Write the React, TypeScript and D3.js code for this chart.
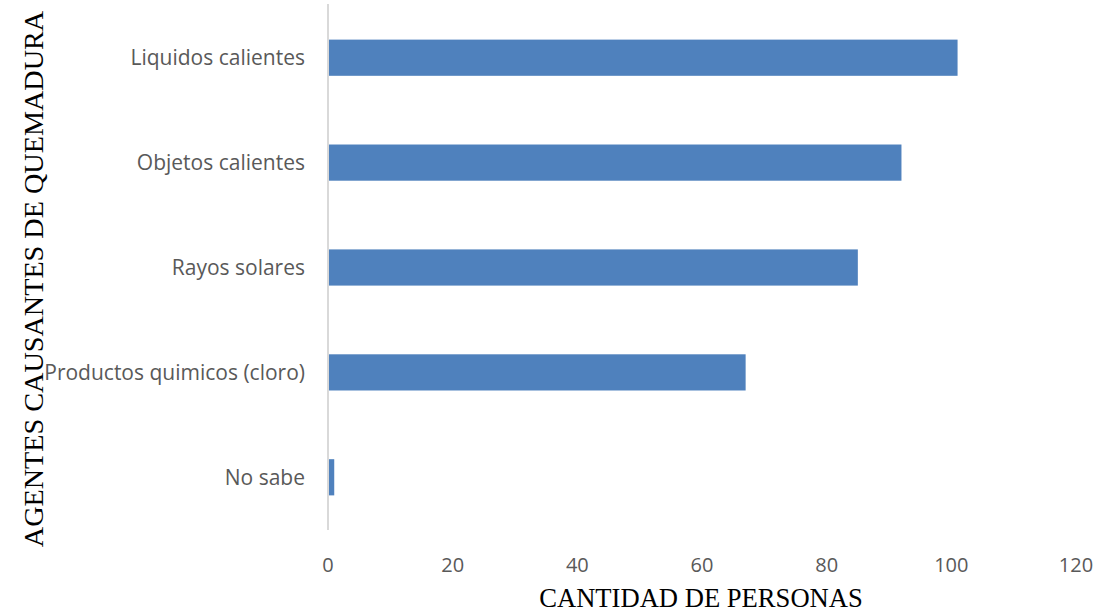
import React from "react";
import * as d3 from "d3";

const categories = ["Liquidos calientes", "Objetos calientes", "Rayos solares", "Productos quimicos (cloro)", "No sabe"];
const values = [101, 92, 85, 67, 1];
const xTicks = [0, 20, 40, 60, 80, 100, 120];

export default function App() {
  const W = 1102, H = 615;
  const left = 328, right = 1076, top = 4, bottom = 530;
  const x = d3.scaleLinear().domain([0, 120]).range([left, right]);
  const y = d3.scaleBand<string>().domain(categories).range([top + 1, bottom]).paddingInner(0.655).paddingOuter(0.33);
  const labelFont = "'Open Sans', 'Liberation Sans', sans-serif";
  return (
    <svg width={W} height={H} style={{ position: "absolute", left: 0, top: 0, background: "#fff" }}>
      {categories.map((c, i) => (
        <rect key={c} x={x(0)} y={y(c)} width={x(values[i]) - x(0)} height={y.bandwidth()} fill="#4f81bd" />
      ))}
      <line x1={left} x2={left} y1={top} y2={bottom} stroke="#d9d9d9" strokeWidth={2} />
      {categories.map((c) => (
        <text key={c} x={left - 23} y={(y(c) as number) + y.bandwidth() / 2} dy="0.35em" textAnchor="end"
          fontFamily={labelFont} fontSize={21} fill="#595959">{c}</text>
      ))}
      {xTicks.map((t) => (
        <text key={t} x={x(t)} y={572} textAnchor="middle" fontFamily={labelFont} fontSize={20} fill="#595959">{t}</text>
      ))}
      <text x={701} y={607} textAnchor="middle" fontFamily="'Liberation Serif', 'DejaVu Serif', serif" fontSize={26.6} fill="#000">CANTIDAD DE PERSONAS</text>
      <text transform={`translate(43, 279) rotate(-90)`} textAnchor="middle" fontFamily="'Liberation Serif', 'DejaVu Serif', serif" fontSize={28.2} fill="#000">AGENTES CAUSANTES DE QUEMADURA</text>
    </svg>
  );
}
